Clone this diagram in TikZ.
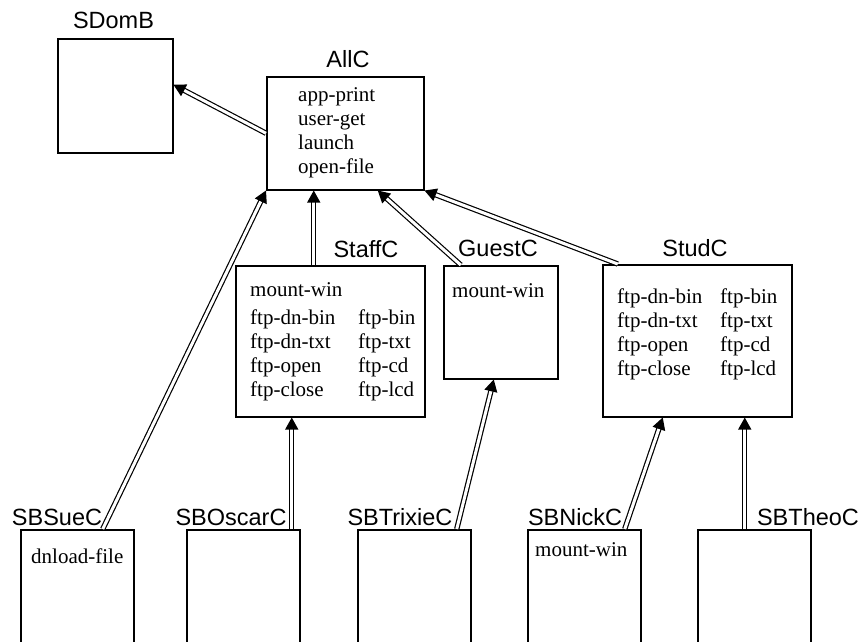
\documentclass[tikz,border=0pt]{standalone}
\usepackage{fontspec}
\setmainfont{Liberation Serif}
\setsansfont{Liberation Sans}
\usetikzlibrary{arrows.meta}

\begin{document}
\begin{tikzpicture}[x=1pt, y=-1pt,
    box/.style={draw, line width=1.5pt, anchor=north west, inner sep=0pt},
    classlabel/.style={anchor=base, inner sep=0pt, font=\sffamily\fontsize{23.5}{28}\selectfont},
    ops/.style={anchor=base west, inner sep=0pt, font=\fontsize{21}{24.3}\selectfont},
    inherit/.style={double, line width=1.2pt, double distance=3pt, -{Triangle[length=12pt, width=13pt]}}]
    \clip (0,0) rectangle (862,641);

    % Draw class boxes
    \node[box, minimum width=115pt, minimum height=114pt] (sdomb) at (57,38) {};
    \node[box, minimum width=157pt, minimum height=113pt] (allc) at (266,76) {};
    \node[box, minimum width=189pt, minimum height=151pt] (staffc) at (235,265) {};
    \node[box, minimum width=114pt, minimum height=113pt] (guestc) at (443,265) {};
    \node[box, minimum width=189pt, minimum height=152pt] (studc) at (602,264) {};
    \node[box, minimum width=113pt, minimum height=130pt] (sbsuec) at (20,529) {}; % runs off the bottom
    \node[box, minimum width=113pt, minimum height=130pt] (sboscarc) at (186,529) {};
    \node[box, minimum width=113pt, minimum height=130pt] (sbtrixiec) at (357,529) {};
    \node[box, minimum width=113pt, minimum height=130pt] (sbnickc) at (527,529) {};
    \node[box, minimum width=113pt, minimum height=130pt] (sbtheoc) at (697,529) {};

    % Draw class names
    \node[classlabel] (sdombname) at (113.5,28) {SDomB};
    \node[classlabel] (allcname) at (348,67) {AllC};
    \node[classlabel] (staffcname) at (366,257) {StaffC};
    \node[classlabel] (guestcname) at (498,256) {GuestC};
    \node[classlabel] (studcname) at (695,256) {StudC};
    \node[classlabel] (sbsuecname) at (57,525) {SBSueC};
    \node[classlabel] (sboscarcname) at (231,525) {SBOscarC};
    \node[classlabel] (sbtrixiecname) at (400,525) {SBTrixieC};
    \node[classlabel] (sbnickcname) at (575,525) {SBNickC};
    \node[classlabel] (sbtheocname) at (808,525) {SBTheoC};

    % Draw operations
    \node[ops] (allcops) at (298,101) {\begin{tabular}[t]{@{}l@{}}app-print\\ user-get\\ launch\\ open-file\end{tabular}};
    \node[ops] (staffcops) at (250,296) {\begin{tabular}[t]{@{}p{108pt}@{}l@{}}
        \multicolumn{2}{@{}l@{}}{mount-win}\\[3.7pt]
        ftp-dn-bin & ftp-bin\\ ftp-dn-txt & ftp-txt\\ ftp-open & ftp-cd\\ ftp-close & ftp-lcd\end{tabular}};
    \node[ops] (guestcops) at (452,297) {mount-win};
    \node[ops] (studcops) at (617,303) {\begin{tabular}[t]{@{}p{103pt}@{}l@{}}
        ftp-dn-bin & ftp-bin\\ ftp-dn-txt & ftp-txt\\ ftp-open & ftp-cd\\ ftp-close & ftp-lcd\end{tabular}};
    \node[ops] (sbsuecops) at (31,563) {dnload-file};
    \node[ops] (sbnickcops) at (535,556) {mount-win};

    % Draw inheritance arrows
    \draw[inherit] (allc.west) -- ([yshift=11pt]sdomb.east);
    \draw[inherit] ([xshift=-16.5pt]staffc.north) -- ([xshift=-31.5pt]allc.south);
    \draw[inherit] ([xshift=-40pt]guestc.north) -- ([xshift=32.5pt]allc.south);
    \draw[inherit] ([xshift=-79.5pt]studc.north) -- (allc.south east);
    \draw[inherit] ([xshift=25.5pt]sbsuec.north) -- (allc.south west);
    \draw[inherit] ([xshift=48.5pt]sboscarc.north) -- ([xshift=-38.5pt]staffc.south);
    \draw[inherit] ([xshift=42.5pt]sbtrixiec.north) -- ([xshift=-7pt]guestc.south);
    \draw[inherit] ([xshift=40.5pt]sbnickc.north) -- ([xshift=-34.5pt]studc.south);
    \draw[inherit] ([xshift=-9.5pt]sbtheoc.north) -- ([xshift=47.5pt]studc.south);
\end{tikzpicture}
\end{document}
